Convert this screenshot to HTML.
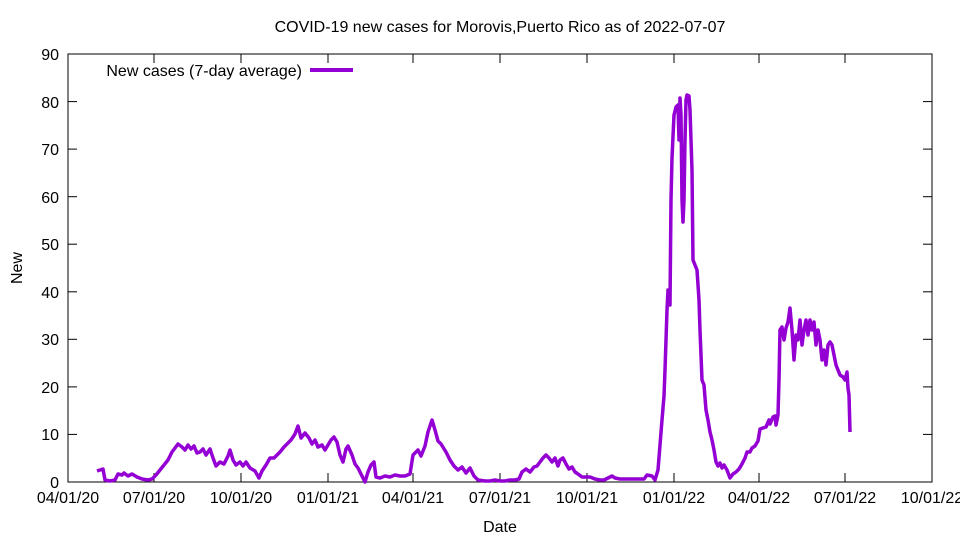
<!DOCTYPE html>
<html><head><style>body{margin:0;background:#fff}svg{display:block;font-family:"Liberation Sans",sans-serif}</style></head><body>
<svg width="960" height="540" viewBox="0 0 960 540">
<rect x="68" y="54" width="864" height="428" fill="none" stroke="#000" stroke-width="1"/>
<g stroke="#000" stroke-width="1">
<line x1="68" y1="434.4" x2="77" y2="434.4"/><line x1="932" y1="434.4" x2="923" y2="434.4"/>
<line x1="68" y1="386.9" x2="77" y2="386.9"/><line x1="932" y1="386.9" x2="923" y2="386.9"/>
<line x1="68" y1="339.3" x2="77" y2="339.3"/><line x1="932" y1="339.3" x2="923" y2="339.3"/>
<line x1="68" y1="291.8" x2="77" y2="291.8"/><line x1="932" y1="291.8" x2="923" y2="291.8"/>
<line x1="68" y1="244.2" x2="77" y2="244.2"/><line x1="932" y1="244.2" x2="923" y2="244.2"/>
<line x1="68" y1="196.7" x2="77" y2="196.7"/><line x1="932" y1="196.7" x2="923" y2="196.7"/>
<line x1="68" y1="149.1" x2="77" y2="149.1"/><line x1="932" y1="149.1" x2="923" y2="149.1"/>
<line x1="68" y1="101.6" x2="77" y2="101.6"/><line x1="932" y1="101.6" x2="923" y2="101.6"/>
<line x1="154" y1="482" x2="154" y2="473"/><line x1="154" y1="54" x2="154" y2="63"/>
<line x1="241" y1="482" x2="241" y2="473"/><line x1="241" y1="54" x2="241" y2="63"/>
<line x1="328" y1="482" x2="328" y2="473"/><line x1="328" y1="54" x2="328" y2="63"/>
<line x1="413" y1="482" x2="413" y2="473"/><line x1="413" y1="54" x2="413" y2="63"/>
<line x1="500" y1="482" x2="500" y2="473"/><line x1="500" y1="54" x2="500" y2="63"/>
<line x1="587" y1="482" x2="587" y2="473"/><line x1="587" y1="54" x2="587" y2="63"/>
<line x1="674" y1="482" x2="674" y2="473"/><line x1="674" y1="54" x2="674" y2="63"/>
<line x1="759" y1="482" x2="759" y2="473"/><line x1="759" y1="54" x2="759" y2="63"/>
<line x1="845" y1="482" x2="845" y2="473"/><line x1="845" y1="54" x2="845" y2="63"/>
</g>
<g font-size="16" text-anchor="end" fill="#000">
<text x="59" y="488">0</text><text x="59" y="440">10</text><text x="59" y="393">20</text><text x="59" y="345">30</text><text x="59" y="298">40</text><text x="59" y="250">50</text><text x="59" y="203">60</text><text x="59" y="155">70</text><text x="59" y="108">80</text><text x="59" y="60">90</text>
</g>
<g font-size="16" text-anchor="middle" fill="#000">
<text x="68" y="503">04/01/20</text><text x="154" y="503">07/01/20</text><text x="241" y="503">10/01/20</text><text x="328" y="503">01/01/21</text><text x="413" y="503">04/01/21</text><text x="500" y="503">07/01/21</text><text x="587" y="503">10/01/21</text><text x="674" y="503">01/01/22</text><text x="759" y="503">04/01/22</text><text x="845" y="503">07/01/22</text><text x="932" y="503">10/01/22</text>
<text x="500" y="532">Date</text>
<text x="500" y="32">COVID-19 new cases for Morovis,Puerto Rico as of 2022-07-07</text>
<text x="22" y="268" transform="rotate(-90 22 268)">New</text>
</g>
<text x="302" y="76" font-size="16" text-anchor="end">New cases (7-day average)</text>
<line x1="310" y1="70" x2="353" y2="70" stroke="#9400d3" stroke-width="4"/>
<polyline fill="none" stroke="#9400d3" stroke-width="3.5" stroke-linejoin="round" points="97,471 103,469 105,480 110,481 115,480 118,474 122,475 124,473 128,476 132,474 137,477 142,479 148,480 152,479 156,475 160,470 164,465 168,460 172,452 175,448 178,444 182,447 185,450 188,445 191,449 194,446 197,453 200,452 203,449 206,455 210,449 213,458 216,466 220,462 224,464 228,456 230,450 233,460 236,465 240,462 243,466 246,462 250,468 255,471 259,478 262,471 266,465 270,458 274,458 277,455 280,452 284,447 288,443 291,440 295,434 298,426 301,438 305,433 309,438 312,444 315,440 318,447 322,445 325,450 328,445 331,440 334,437 337,442 340,455 343,462 346,449 348,446 352,455 355,464 358,468 362,476 365,482 368,472 371,465 374,462 376,477 380,478 385,476 390,477 395,475 400,476 405,476 410,474 413,455 418,450 421,456 425,446 428,432 432,420 435,430 438,441 441,444 446,452 450,460 454,466 458,470 462,467 466,473 470,468 474,476 478,480 485,481 490,481 495,480 500,481 505,481 510,480 515,480 519,479 522,472 526,469 530,472 534,467 537,466 540,462 543,458 546,455 549,458 552,462 555,458 558,466 560,460 563,458 566,464 569,469 572,467 575,472 578,474 582,477 586,477 590,477 595,479 600,480 604,480 608,478 612,476 615,478 620,479 625,479 630,479 635,479 640,479 644,479 647,475 652,476 655,480 658,470 660,445 662,420 664,396 665,370 667,310 668,290 670,305 671,200 672,158 674,115 676,107 678,105 679,140 680,98 681,115 682,200 683,222 684,200 685,140 686,100 687,95 689,96 690,110 692,170 693,260 695,265 697,270 699,300 700,330 702,380 704,385 706,410 708,420 710,432 712,440 714,450 716,462 718,466 720,463 722,468 724,465 727,470 730,478 733,474 736,472 739,469 742,464 745,458 747,452 750,452 752,448 755,446 758,441 760,429 763,428 766,427 769,420 770,424 773,417 775,416 776,425 778,415 779,380 780,330 782,327 784,340 786,328 788,322 790,308 792,330 794,360 796,335 798,340 800,320 802,345 804,330 806,320 808,335 810,320 812,330 814,322 816,345 818,330 820,340 822,360 824,350 826,365 828,345 830,342 832,345 834,355 836,365 838,370 840,375 843,377 845,380 847,372 848,388 849,395 850,432"/>
</svg>
</body></html>
